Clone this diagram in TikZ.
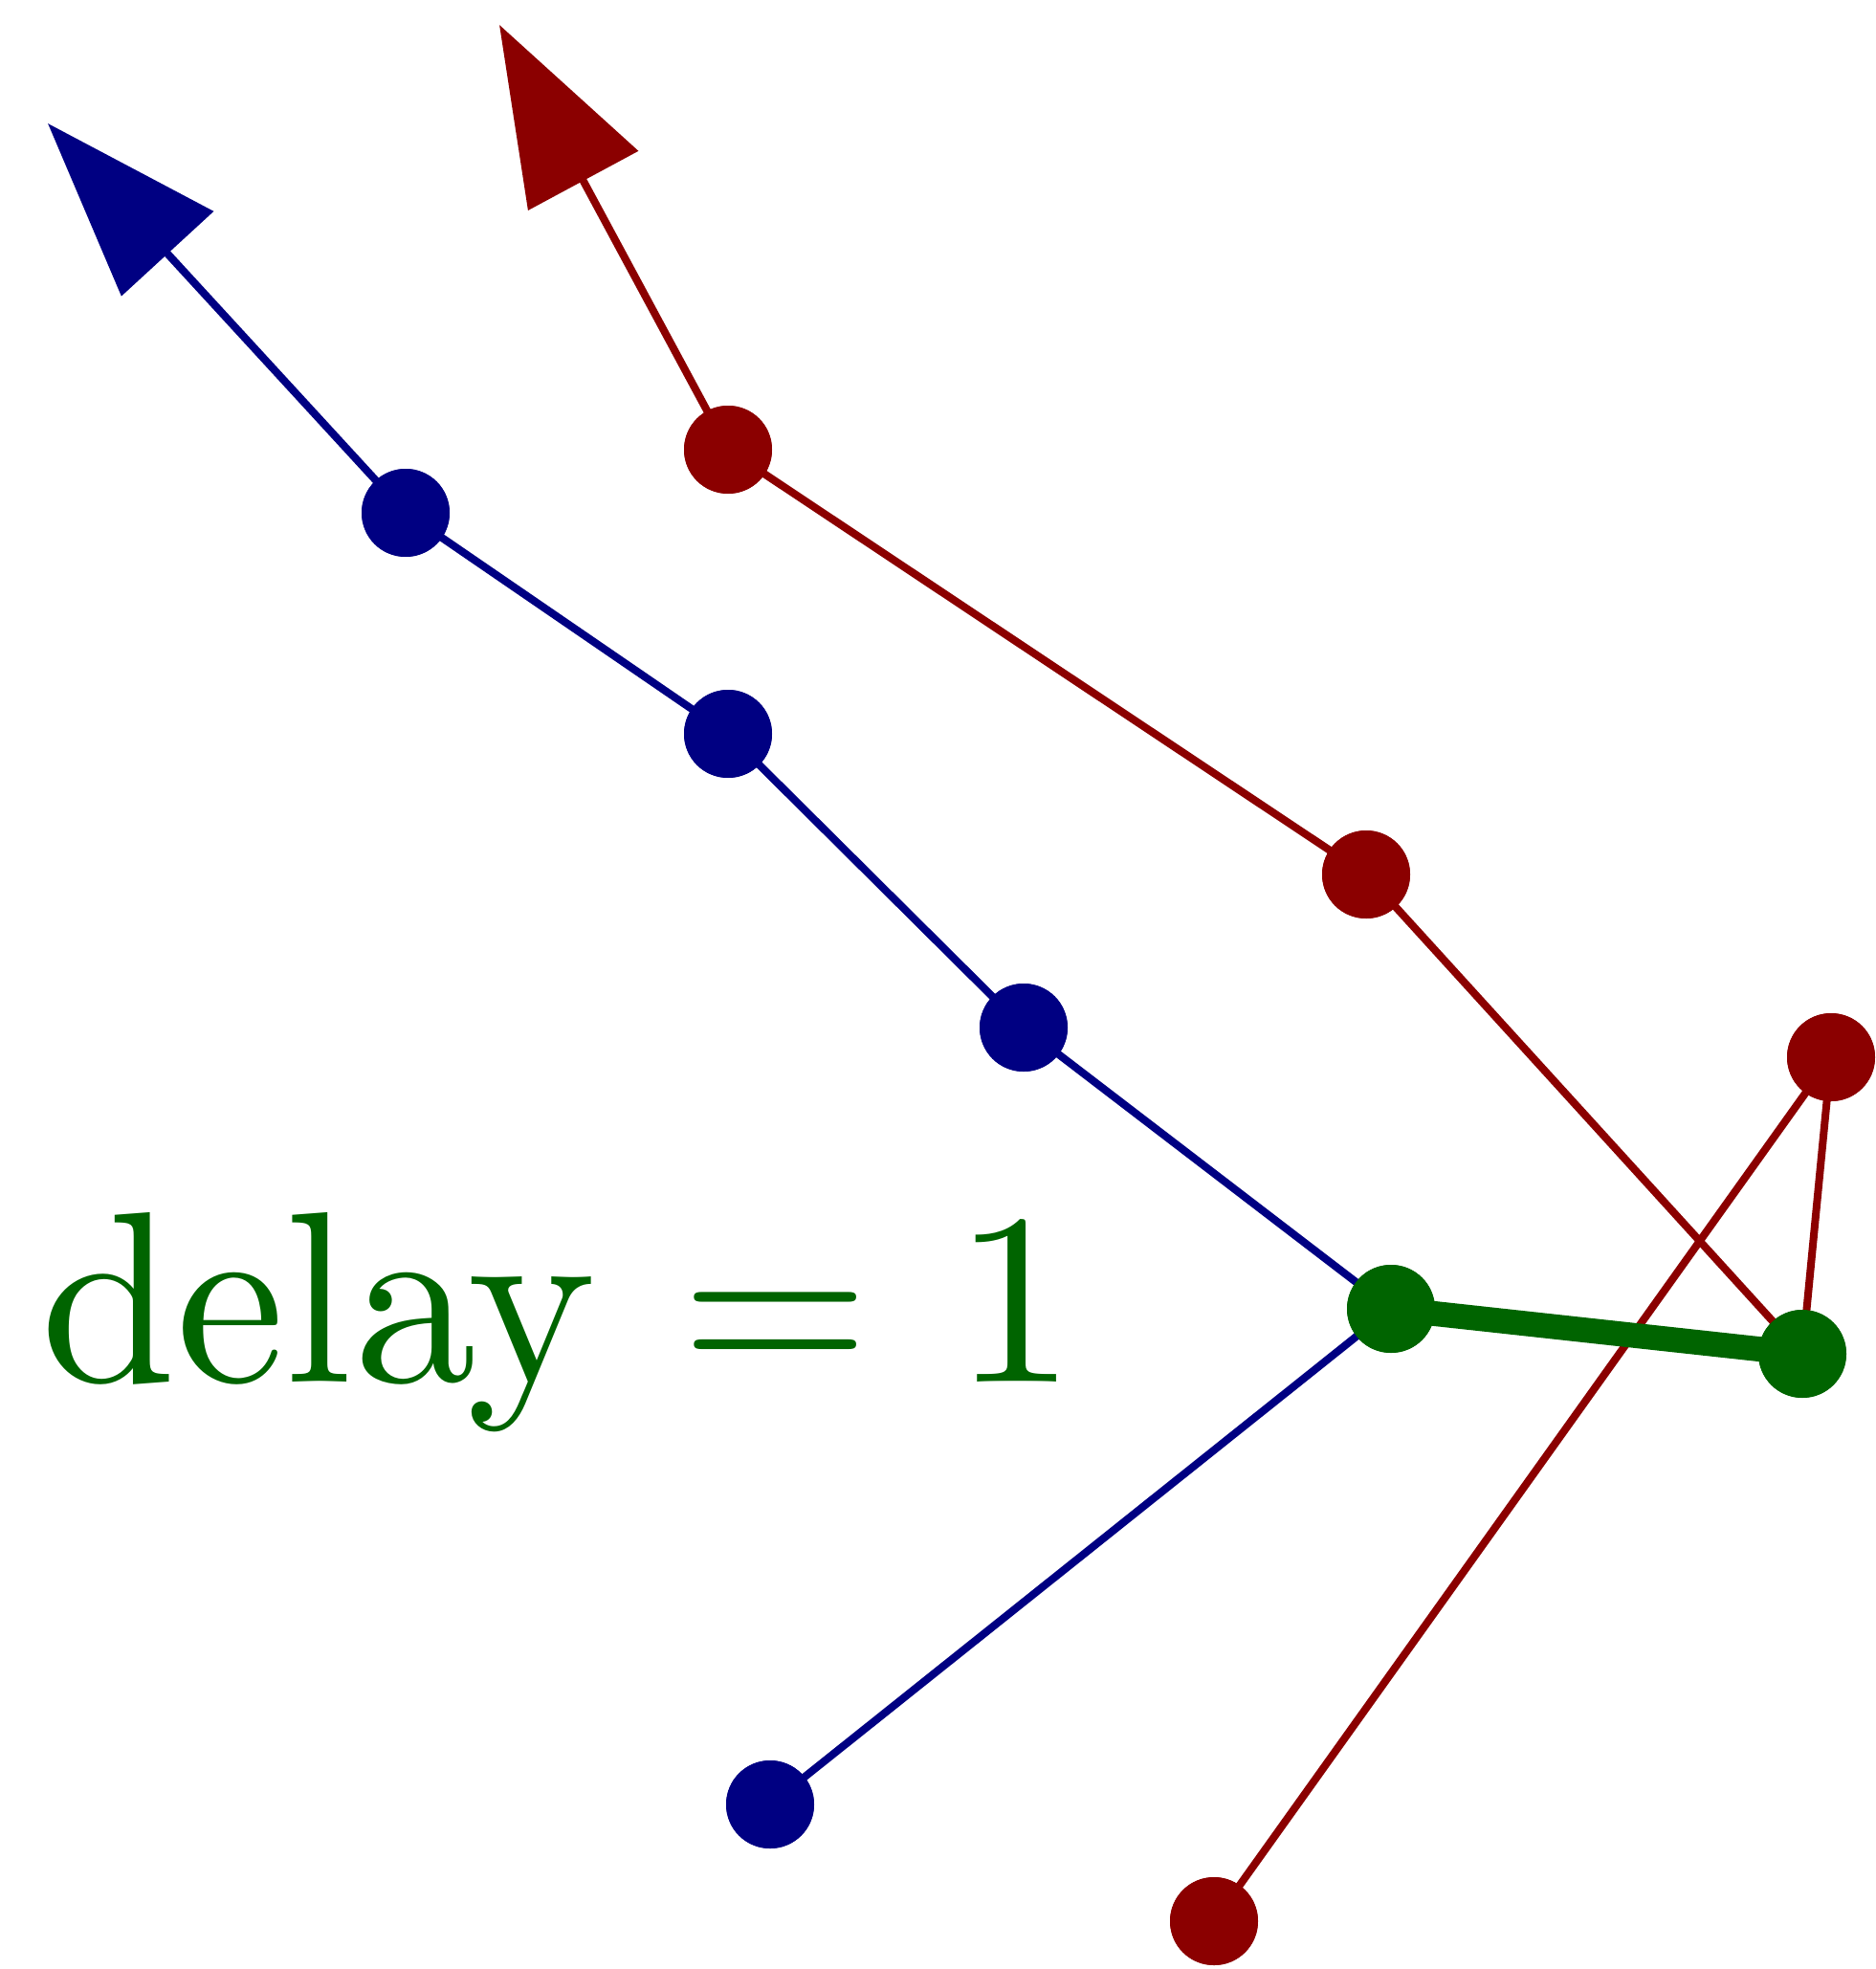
\documentclass[tikz,border=0pt]{standalone}
\usepackage{graphicx}
\usetikzlibrary{arrows.meta}
\definecolor{cblue}{RGB}{0,0,130}
\definecolor{cred}{RGB}{139,0,0}
\definecolor{cgreen}{RGB}{0,100,0}
\begin{document}
\begin{tikzpicture}[
  dot/.style={circle,fill=#1,inner sep=0pt,minimum size=0.92cm},
  edge/.style={draw=#1,line width=0.08cm},
  arrowtip/.style={-{Triangle[length=1.85cm,width=1.29cm]}}
]
\useasboundingbox (0,0) rectangle (19.61,-20.58);
% coordinates
\coordinate (tipB) at (0.50,-1.29);
\coordinate (tipR) at (5.22,-0.26);
\node[dot=cblue] (B1) at (4.24,-5.36) {};
\node[dot=cblue] (B2) at (7.61,-7.67) {};
\node[dot=cblue] (B3) at (10.70,-10.74) {};
\node[dot=cblue] (B4) at (8.05,-18.86) {};
\node[dot=cred] (R1) at (7.61,-4.70) {};
\node[dot=cred] (R2) at (14.28,-9.14) {};
\node[dot=cred] (R3) at (19.14,-11.05) {};
\node[dot=cred] (R4) at (12.69,-20.08) {};
\node[dot=cgreen] (G1) at (14.54,-13.68) {};
\node[dot=cgreen] (G2) at (18.84,-14.15) {};
% blue path
\draw[edge=cblue] (B4.center) -- (G1.center) -- (B3.center) -- (B2.center) -- (B1.center);
\draw[edge=cblue,arrowtip,fill=cblue] (B1.center) -- (tipB);
% red path
\draw[edge=cred] (R4.center) -- (R3.center) -- (G2.center) -- (R2.center) -- (R1.center);
\draw[edge=cred,arrowtip,fill=cred] (R1.center) -- (tipR);
% green link
\draw[draw=cgreen,line width=0.26cm] (G1.center) -- (G2.center);
% dots on top
\foreach \n/\c in {B1/cblue,B2/cblue,B3/cblue,B4/cblue,R1/cred,R2/cred,R3/cred,R4/cred,G1/cgreen,G2/cgreen}
  \fill[\c] (\n.center) circle (0.46cm);
% label
\node[anchor=base west,inner sep=0pt,text=cgreen] (lbl) at (0.42,-14.44) {\scalebox{7.26}{$\mathrm{delay}\mkern1mu=\mkern1.2mu1$}};
\end{tikzpicture}
\end{document}
